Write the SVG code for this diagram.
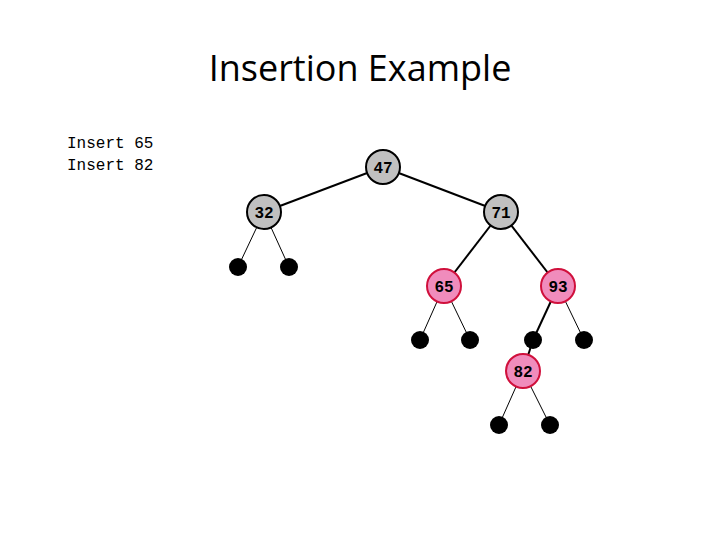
<svg xmlns="http://www.w3.org/2000/svg" width="720" height="540" viewBox="0 0 720 540">
<style>
.g{fill:#c0c0c0;stroke:#000;stroke-width:2}
.r{fill:#f08cbc;stroke:#d0103c;stroke-width:2}
.l{fill:#000}
.t{font-family:"Liberation Mono",monospace;font-weight:bold;font-size:16px;text-anchor:middle}
.e{stroke:#000;stroke-width:1}
.E{stroke:#000;stroke-width:2}
</style>
<rect width="720" height="540" fill="#fff"/>
<text x="360" y="81" font-family="Open Sans, sans-serif" font-size="36" text-anchor="middle">Insertion Example</text>
<text x="67" y="148" font-family="Liberation Mono,monospace" font-size="16">Insert 65</text>
<text x="67" y="170" font-family="Liberation Mono,monospace" font-size="16">Insert 82</text>
<g id="connectors">
<line class="E" x1="383" y1="167" x2="264" y2="212"/>
<line class="E" x1="383" y1="167" x2="501" y2="212"/>
<line class="e" x1="264" y1="212" x2="238" y2="267"/>
<line class="e" x1="264" y1="212" x2="289" y2="267"/>
<line class="E" x1="501" y1="212" x2="444" y2="286"/>
<line class="E" x1="501" y1="212" x2="558" y2="286"/>
<line class="e" x1="444" y1="286" x2="420" y2="340"/>
<line class="e" x1="444" y1="286" x2="470" y2="340"/>
<line class="E" x1="558" y1="286" x2="533" y2="340"/>
<line class="e" x1="558" y1="286" x2="584" y2="340"/>
<line class="E" x1="533" y1="340" x2="523" y2="371"/>
<line class="e" x1="523" y1="371" x2="499" y2="425"/>
<line class="e" x1="523" y1="371" x2="550" y2="425"/>
</g>
<g id="n47"><circle class="g" cx="383" cy="167" r="17"/><text class="t" x="383" y="173">47</text></g>
<g id="n32"><circle class="g" cx="264" cy="212" r="17"/><text class="t" x="264" y="218">32</text></g>
<g id="n71"><circle class="g" cx="501" cy="212" r="17"/><text class="t" x="501" y="218">71</text></g>
<g id="l1"><circle class="l" cx="238" cy="267" r="9"/></g>
<g id="l2"><circle class="l" cx="289" cy="267" r="9"/></g>
<g id="n65"><circle class="r" cx="444" cy="286" r="17"/><text class="t" x="444" y="292">65</text></g>
<g id="n93"><circle class="r" cx="558" cy="286" r="17"/><text class="t" x="558" y="292">93</text></g>
<g id="l3"><circle class="l" cx="420" cy="340" r="9"/></g>
<g id="l4"><circle class="l" cx="470" cy="340" r="9"/></g>
<g id="l5"><circle class="l" cx="533" cy="340" r="9"/></g>
<g id="l6"><circle class="l" cx="584" cy="340" r="9"/></g>
<g id="n82"><circle class="r" cx="523" cy="371" r="17"/><text class="t" x="523" y="377">82</text></g>
<g id="l7"><circle class="l" cx="499" cy="425" r="9"/></g>
<g id="l8"><circle class="l" cx="550" cy="425" r="9"/></g>
</svg>
